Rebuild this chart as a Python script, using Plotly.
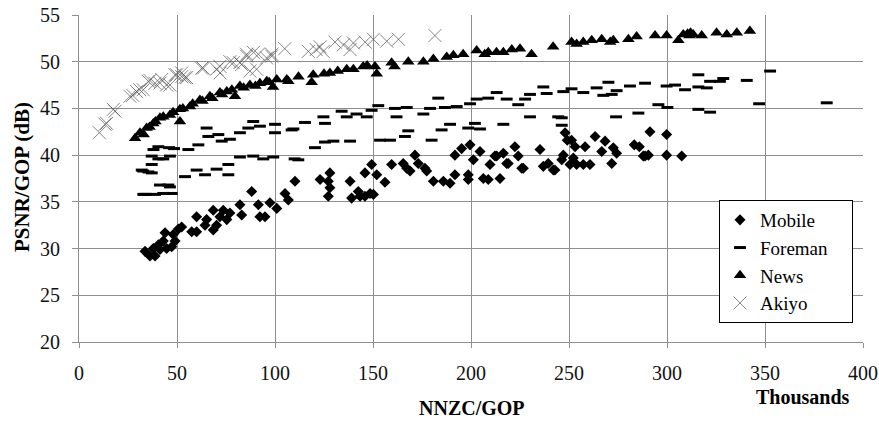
import plotly.graph_objects as go

# ---- data (x in thousands NNZC/GOP, y in dB) ----
series_names = ["Mobile", "Foreman", "News", "Akiyo"]

mobile_x = [33.7, 36.2, 38.8, 37.9, 40.5, 43.0, 41.3, 44.7, 47.3, 49.0, 48.1, 43.9, 50.7, 52.4, 57.5, 60.0, 60.0,
            64.3, 65.1, 68.5, 68.5, 70.2, 71.9, 73.6, 75.4, 77.0, 82.1, 83.0, 88.1, 91.5, 92.3, 94.9, 97.4, 100.9,
            105.1, 106.8, 110.2, 123.0, 128.0, 127.2, 128.0, 127.2, 138.3, 139.1, 142.5, 143.4, 145.9, 148.5, 150.2,
            145.9, 149.3, 151.9, 156.1, 159.5, 165.4, 167.2, 168.9, 171.4, 173.1, 176.5, 177.4, 180.8, 185.9, 189.3,
            191.8, 191.8, 195.2, 198.6, 198.6, 199.5, 201.2, 204.6, 206.3, 208.8, 209.7, 212.2, 213.1, 214.8, 216.5,
            218.2, 219.0, 222.4, 224.1, 225.9, 226.7, 235.2, 236.9, 239.4, 242.0, 242.8, 246.3, 247.1, 248.0, 249.1,
            250.5, 251.3, 252.2, 253.1, 253.9, 257.3, 258.2, 260.7, 263.3, 266.7, 268.4, 271.8, 272.6, 274.3, 283.3,
            285.9, 287.9, 288.8, 290.5, 291.3, 299.8, 299.8, 307.5]
mobile_y = [29.7, 29.2, 29.2, 30.0, 30.4, 30.8, 29.9, 30.0, 30.2, 30.8, 31.5, 31.7, 32.1, 32.3, 31.8, 31.8, 33.4,
            32.5, 33.1, 34.1, 32.0, 32.5, 33.4, 34.1, 33.1, 33.8, 34.7, 33.6, 36.1, 34.7, 33.4, 33.4, 34.9, 34.3,
            35.9, 35.2, 37.2, 37.4, 38.1, 37.2, 36.5, 35.6, 37.2, 35.4, 36.1, 35.6, 35.6, 35.9, 35.8,
            38.1, 39.0, 37.9, 37.1, 39.0, 39.1, 38.6, 38.3, 40.0, 39.1, 38.6, 38.3, 37.2, 37.2, 37.0,
            37.9, 40.0, 40.7, 37.4, 37.9, 41.1, 39.5, 40.4, 37.5, 37.4, 39.0, 39.9, 39.9, 37.5, 40.2,
            39.1, 39.1, 40.9, 39.9, 38.6, 38.6, 40.6, 38.8, 39.1, 38.4, 38.4, 39.5, 40.0, 42.4, 41.6,
            39.0, 41.6, 39.7, 40.9, 39.0, 39.0, 40.9, 39.0, 42.0, 40.4, 41.5, 39.1, 40.8, 40.2, 41.1,
            40.9, 39.9, 39.9, 40.0, 42.5, 42.2, 40.0, 39.9]

foreman_x = [32.8, 37.1, 32.0, 35.4, 37.1, 43.0, 37.1, 40.5, 46.4, 38.0, 40.5, 46.0, 48.5, 55.8, 60.9, 65.1, 66.0,
             71.1, 72.8, 77.0, 82.1, 86.4, 88.9, 92.3, 100.0, 100.0, 108.5, 109.4, 115.3, 124.7, 125.5, 134.0, 136.6,
             141.6, 146.8, 149.3, 152.7, 161.2, 162.0, 167.2, 175.7, 179.1, 183.3, 186.7, 192.7, 199.5, 202.9, 208.8,
             213.1, 218.2, 224.1, 227.6, 230.1, 236.9, 238.6, 247.1, 251.3, 257.3, 264.1, 267.5, 270.1, 271.8, 274.3,
             281.1, 288.8, 299.8, 304.1, 309.2, 316.0, 316.0, 320.3, 322.0, 327.0, 328.7, 340.7, 352.6,
             32.8, 34.0, 38.8, 43.0, 41.3, 46.4, 47.3, 45.6, 54.1, 60.0, 64.3, 70.2, 76.2, 76.2, 82.1, 88.9, 94.0,
             99.1, 110.0, 111.9, 120.4, 125.5, 129.8, 138.3, 153.6, 158.7, 166.3, 168.0, 179.9, 185.0, 189.3, 198.6,
             202.0, 204.6, 216.5, 230.1, 244.5, 246.3, 246.3, 274.0, 285.4, 295.6, 300.2, 316.0, 322.0, 347.0, 381.5]
foreman_y = [38.3, 38.1, 38.4, 38.2, 39.0, 39.6, 39.9, 39.6, 39.9, 40.6, 40.9, 40.8, 40.7, 40.6, 41.1, 42.9, 42.0,
             42.2, 41.5, 41.7, 42.4, 42.9, 43.6, 43.1, 43.3, 42.4, 42.7, 42.8, 43.5, 44.1, 43.4, 44.7, 44.1,
             44.4, 44.1, 44.8, 45.3, 45.0, 44.1, 45.1, 44.4, 45.0, 46.1, 45.1, 45.2, 45.5, 46.0, 46.1,
             46.7, 46.0, 45.4, 46.0, 46.5, 47.3, 46.6, 46.8, 47.1, 46.7, 47.2, 46.4, 47.8, 46.5, 46.9,
             47.4, 47.7, 47.4, 47.5, 47.0, 48.6, 47.3, 47.2, 47.9, 47.9, 48.2, 48.0, 49.0,
             35.8, 35.8, 35.8, 35.9, 36.8, 36.6, 35.9, 36.8, 37.7, 38.4, 37.9, 38.5, 39.0, 37.9, 39.8, 39.9, 39.6,
             39.8, 39.6, 39.5, 40.8, 41.4, 41.5, 41.5, 41.6, 41.6, 42.0, 42.6, 41.6, 42.7, 43.3, 42.9,
             43.4, 42.8, 43.3, 44.1, 44.1, 44.0, 43.2, 44.1, 44.5, 45.4, 45.1, 44.9, 44.6, 45.5, 45.6]

news_x = [28.6, 31.1, 33.0, 34.5, 36.0, 37.9, 39.0, 41.3, 43.0, 46.4, 48.0, 51.5, 51.5, 53.0, 56.6, 58.0, 61.7,
          63.0, 66.8, 68.0, 71.9, 73.0, 75.4, 78.0, 79.6, 82.1, 84.0, 87.2, 90.0, 92.3, 95.8, 97.0, 99.0, 100.9,
          106.0, 106.8, 112.0, 118.7, 119.5, 125.0, 128.0, 132.0, 136.6, 140.0, 145.0, 147.0, 151.0, 151.9, 159.5,
          161.0, 168.0, 175.7, 180.8, 187.6, 191.0, 196.0, 202.9, 207.0, 208.8, 213.0, 216.5, 220.8, 225.0, 230.9,
          241.9, 251.3, 253.9, 257.3, 261.6, 266.7, 271.0, 272.6, 280.3, 284.5, 293.9, 299.8, 305.8, 308.3, 310.5,
          311.5, 312.0, 313.4, 317.7, 325.3, 330.5, 335.6, 342.3]
news_y = [41.8, 42.4, 42.2, 42.9, 43.0, 43.4, 43.6, 44.0, 44.1, 44.3, 44.6, 44.9, 43.6, 45.0, 45.2, 45.5, 45.9,
          45.8, 46.3, 46.1, 46.7, 46.5, 46.8, 47.0, 46.3, 47.4, 47.2, 47.5, 47.4, 47.7, 47.9, 47.8, 47.3, 48.1,
          48.1, 47.9, 48.4, 47.8, 48.6, 48.7, 48.8, 49.0, 49.2, 49.2, 49.5, 49.6, 49.5, 48.7, 49.9,
          49.5, 50.0, 50.0, 50.3, 50.5, 50.7, 50.8, 51.2, 50.8, 51.0, 51.0, 51.0, 51.3, 51.4, 50.8,
          51.6, 52.1, 51.9, 52.1, 52.3, 52.4, 52.1, 52.3, 52.4, 52.7, 52.8, 52.8, 52.3, 52.9, 53.0,
          52.8, 53.1, 52.9, 52.8, 53.1, 52.9, 53.1, 53.3]

akiyo_x = [10.4, 13.3, 14.1, 17.5, 18.4, 26.0, 27.4, 29.4, 31.0, 32.8, 35.4, 36.2, 38.8, 41.3, 42.2, 44.7, 46.4,
           49.0, 49.8, 52.4, 52.4, 54.0, 54.9, 62.6, 63.4, 70.2, 71.9, 72.0, 77.0, 78.7, 82.1, 83.0, 85.5, 85.5,
           87.2, 89.0, 90.6, 91.5, 95.7, 98.3, 98.3, 105.0, 117.0, 121.0, 123.0, 124.6, 130.6, 134.9, 138.3, 140.0,
           146.0, 150.2, 157.0, 163.0, 181.6]
akiyo_y = [42.4, 43.3, 43.4, 44.9, 44.7, 46.3, 46.4, 46.8, 47.0, 47.0, 47.9, 48.0, 47.7, 47.7, 48.1, 47.5, 47.5,
           48.6, 48.6, 48.8, 48.4, 48.3, 48.3, 49.3, 49.3, 49.2, 49.5, 48.8, 50.0, 49.9, 49.9, 49.7, 50.8, 50.6,
           49.0, 51.0, 49.2, 50.8, 50.4, 50.8, 50.6, 51.4, 51.1, 51.3, 51.6, 51.1, 52.1, 51.8, 51.3, 52.0,
           52.1, 52.4, 52.2, 52.4, 52.8]

x_ticks = [0, 50, 100, 150, 200, 250, 300, 350, 400]
y_ticks = [20, 25, 30, 35, 40, 45, 50, 55]

SERIF = "'Liberation Serif', 'Times New Roman', 'DejaVu Serif', serif"
PAD = "\u00a0" * 4  # invisible padding to widen the legend box like the original

fig = go.Figure()
fig.add_trace(go.Scatter(x=mobile_x, y=mobile_y, mode="markers", name=series_names[0],
                         marker=dict(symbol="diamond", size=8.5, color="black", line=dict(width=0))))
fig.add_trace(go.Scatter(x=foreman_x, y=foreman_y, mode="markers", name=series_names[1] + PAD,
                         marker=dict(symbol="line-ew", size=8.5, color="black",
                                     line=dict(width=3, color="black"))))
fig.add_trace(go.Scatter(x=news_x, y=news_y, mode="markers", name=series_names[2],
                         marker=dict(symbol="triangle-up", size=11, color="black", line=dict(width=0))))
fig.add_trace(go.Scatter(x=akiyo_x, y=akiyo_y, mode="markers", name=series_names[3],
                         marker=dict(symbol="x-thin", size=13, color="rgba(80,80,80,0.7)",
                                     line=dict(width=1, color="rgba(80,80,80,0.7)"))))

L, R, T, B = 79, 16, 15, 81
W, H = 879, 423
pw, ph = W - L - R, H - T - B

def px_x(p):
    return (p - L) / pw

def px_y(p):
    return (H - B - p) / ph

grid = "#8e8e8e"
fig.update_layout(
    width=W, height=H,
    margin=dict(l=L, r=R, t=T, b=B, autoexpand=False),
    paper_bgcolor="white", plot_bgcolor="white",
    font=dict(family=SERIF, size=20, color="black"),
    showlegend=True,
    legend=dict(x=px_x(719), y=px_y(200), xanchor="left", yanchor="top",
                bgcolor="white", bordercolor="black", borderwidth=1,
                font=dict(family=SERIF, size=19, color="black"),
                itemsizing="trace", tracegroupgap=0),
    xaxis=dict(range=[0, 400], tickvals=x_ticks, ticktext=[str(v) for v in x_ticks],
               showgrid=True, gridcolor=grid, gridwidth=1, zeroline=False,
               showline=True, linecolor=grid, linewidth=1,
               ticks="outside", ticklen=5, tickcolor=grid, ticklabelstandoff=8,
               tickfont=dict(family=SERIF, size=20, color="#111")),
    yaxis=dict(range=[20, 55], tickvals=y_ticks, ticktext=[str(v) for v in y_ticks],
               showgrid=True, gridcolor=grid, gridwidth=1, zeroline=False,
               showline=True, linecolor=grid, linewidth=1,
               ticks="outside", ticklen=6, tickcolor=grid, ticklabelstandoff=8,
               tickfont=dict(family=SERIF, size=20, color="#111")),
    annotations=[
        dict(text="<b>PSNR/GOP (dB)</b>", xref="paper", yref="paper", x=px_x(22), y=px_y(177),
             textangle=-90, showarrow=False, font=dict(family=SERIF, size=21, color="black"),
             xanchor="center", yanchor="middle"),
        dict(text="<b>NNZC/GOP</b>", xref="paper", yref="paper", x=px_x(472), y=px_y(408),
             showarrow=False, font=dict(family=SERIF, size=20, color="black"),
             xanchor="center", yanchor="middle"),
        dict(text="<b>Thousands</b>", xref="paper", yref="paper", x=px_x(803), y=px_y(397),
             showarrow=False, font=dict(family=SERIF, size=20, color="black"),
             xanchor="center", yanchor="middle"),
    ],
)

fig.write_html("out.html", config={"displayModeBar": False},
               post_script="document.body.style.margin='0px';document.body.style.padding='0px';")
